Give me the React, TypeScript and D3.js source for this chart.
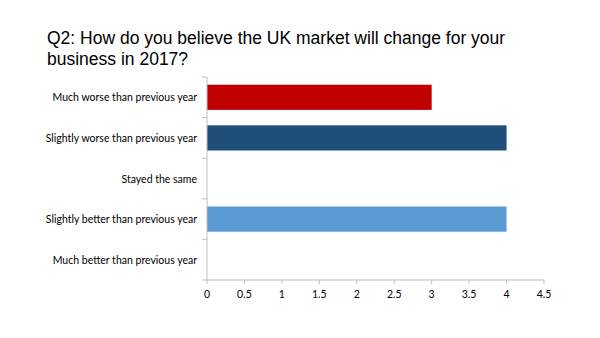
import React from "react";
import * as d3 from "d3";

const categories = [
  "Much worse than previous year",
  "Slightly worse than previous year",
  "Stayed the same",
  "Slightly better than previous year",
  "Much better than previous year",
];
const values = [3, 4, 0, 4, 0];
const colors = ["#C00000", "#1F4E79", "#5B9BD5", "#5B9BD5", "#5B9BD5"];
const xTicks = [0, 0.5, 1, 1.5, 2, 2.5, 3, 3.5, 4, 4.5];
const titleLines = [
  "Q2: How do you believe the UK market will change for your",
  "business in 2017?",
];

export default function App() {
  const W = 600, H = 338;
  const left = 207, right = 544, top = 77, bottom = 280;
  const x = d3.scaleLinear().domain([0, 4.5]).range([left, right]);
  const y = d3.scaleBand<string>().domain(categories).range([top, bottom]).paddingInner(0.38).paddingOuter(0.19);
  const step = (bottom - top) / categories.length;
  const axisColor = "#BFBFBF";
  const labelFont = "Lato, 'Open Sans', sans-serif";
  return (
    <svg width={W} height={H} style={{ position: "absolute", left: 0, top: 0, background: "#fff" }}>
      <rect x={0} y={0} width={W} height={H} fill="#fff" />
      {titleLines.map((t, i) => (
        <text key={i} x={47} y={44 + i * 21} fontFamily="'Liberation Sans', Arial, sans-serif" fontSize={17.5} fill="#000">
          {t}
        </text>
      ))}
      {categories.map((c, i) => (
        <rect key={c} x={x(0)} y={y(c)!} width={x(values[i]) - x(0)} height={y.bandwidth()} fill={colors[i]} />
      ))}
      <line x1={left} x2={left} y1={top} y2={bottom} stroke={axisColor} strokeWidth={1} />
      {d3.range(categories.length + 1).map((i) => (
        <line key={i} x1={left - 5} x2={left} y1={top + i * step} y2={top + i * step} stroke={axisColor} />
      ))}
      <line x1={left} x2={right} y1={bottom} y2={bottom} stroke={axisColor} />
      {xTicks.map((t) => (
        <g key={t}>
          <line x1={x(t)} x2={x(t)} y1={bottom} y2={bottom + 4} stroke={axisColor} />
          <text x={x(t)} y={bottom + 18} textAnchor="middle" fontFamily={labelFont} fontSize={10.5} fill="#000">
            {t}
          </text>
        </g>
      ))}
      {categories.map((c) => (
        <text key={c} x={197} y={y(c)! + y.bandwidth() / 2 + 4} textAnchor="end" fontFamily={labelFont} fontSize={10.5} fill="#000">
          {c}
        </text>
      ))}
    </svg>
  );
}
